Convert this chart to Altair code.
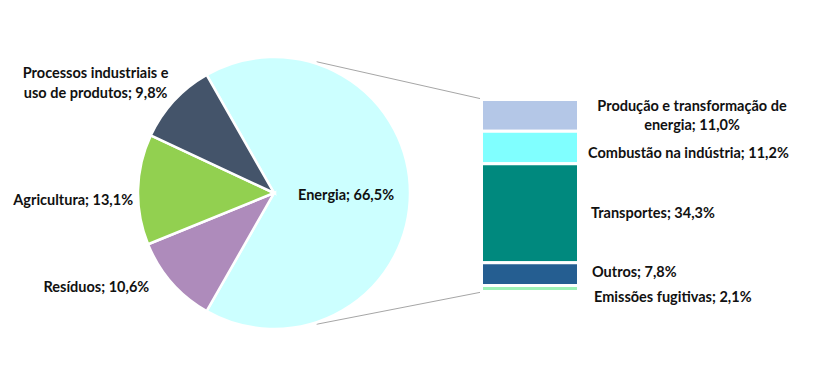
import math
import altair as alt
import pandas as pd

# ---------------- data ----------------
pie_cats = ["Energia", "Resíduos", "Agricultura", "Processos industriais e uso de produtos"]
pie_vals = [66.5, 10.6, 13.1, 9.8]
pie_labels = ["Energia; 66,5%", "Resíduos; 10,6%", "Agricultura; 13,1%",
              "Processos industriais e\nuso de produtos; 9,8%"]

bar_cats = ["Produção e transformação de energia", "Combustão na indústria",
            "Transportes", "Outros", "Emissões fugitivas"]
bar_vals = [11.0, 11.2, 34.3, 7.8, 2.1]
bar_labels = ["Produção e transformação de\nenergia; 11,0%", "Combustão na indústria; 11,2%",
              "Transportes; 34,3%", "Outros; 7,8%", "Emissões fugitivas; 2,1%"]

# ---------------- styles / layout ----------------
pie_colors = ["#CCFFFF", "#AE8BBB", "#92D050", "#44546A"]
bar_colors = ["#B4C7E7", "#80FFFF", "#00897E", "#255E91", "#9DF2B6"]
W, H = 813, 366
CX, CY, R = 266, 185, 136
FONT = "Lato"
FS = 14.5

pie = pd.DataFrame({"cat": pie_cats, "value": pie_vals, "label": pie_labels,
                    "idx": list(range(len(pie_cats)))})
cum = pie["value"].cumsum()
pie["mid"] = cum - pie["value"] / 2
total = float(pie["value"].sum())

# Energia centred on the right side (3 o'clock)
a0 = math.pi / 2 - math.pi * pie_vals[0] / total
theta_scale = alt.Scale(domain=[0, total], range=[a0, a0 + 2 * math.pi])

bar = pd.DataFrame({"cat": bar_cats, "value": bar_vals, "label": bar_labels})
bar["y1"] = bar["value"].cumsum()
bar["y0"] = bar["y1"] - bar["value"]
bar["mid"] = (bar["y0"] + bar["y1"]) / 2
bar_total = float(bar["value"].sum())
y_scale = alt.Scale(domain=[0, bar_total], range=[91.5, 283.5], nice=False, zero=False)

arcs = alt.Chart(pie).mark_arc(outerRadius=R, stroke="white", strokeWidth=2.5).encode(
    theta=alt.Theta("value:Q", stack=True, scale=theta_scale),
    fill=alt.Fill("cat:N", scale=alt.Scale(domain=pie_cats, range=pie_colors), legend=None),
    order=alt.Order("idx:Q"),
    x=alt.value(CX), y=alt.value(CY),
)

# per-label placement: (radius, align, dx, dy)
pie_lab_layout = {
    "Energia": (72, "center", 0, 3),
    "Resíduos": (146, "right", -15, -1),
    "Agricultura": (146, "right", 5, 12),
    "Processos industriais e uso de produtos": (146, "center", -71, -20),
}
pie_texts = []
for cat, (rad, al, dx, dy) in pie_lab_layout.items():
    sub = pie[pie["cat"] == cat]
    pie_texts.append(
        alt.Chart(sub).mark_text(radius=rad, align=al, baseline="middle", dx=dx, dy=dy,
                                 font=FONT, fontSize=FS, fontWeight="bold", color="#111111",
                                 lineBreak="\n", lineHeight=20).encode(
            theta=alt.Theta("mid:Q", scale=theta_scale),
            x=alt.value(CX), y=alt.value(CY),
            text="label:N",
        )
    )

bars = alt.Chart(bar).mark_rect(stroke="white", strokeWidth=3).encode(
    x=alt.value(473.5), x2=alt.value(570.5),
    y=alt.Y("y0:Q", scale=y_scale, axis=None), y2="y1:Q",
    color=alt.Color("cat:N", scale=alt.Scale(domain=bar_cats, range=bar_colors), legend=None),
)

bar_lab_layout = {
    "Produção e transformação de energia": (684, "center", -8),
    "Combustão na indústria": (580, "left", 6),
    "Transportes": (583, "left", 1),
    "Outros": (584, "left", -1),
    "Emissões fugitivas": (586, "left", 10),
}
bar_texts = []
for cat, (xx, al, dy) in bar_lab_layout.items():
    sub = bar[bar["cat"] == cat]
    bar_texts.append(
        alt.Chart(sub).mark_text(align=al, baseline="middle", dy=dy, font=FONT, fontSize=FS,
                                 fontWeight="bold", color="#111111", lineBreak="\n",
                                 lineHeight=19).encode(
            x=alt.value(xx),
            y=alt.Y("mid:Q", scale=y_scale, axis=None),
            text="label:N",
        )
    )

# connector lines from pie to the bar
ang = math.radians(18)
px = CX + (R + 2) * math.sin(ang)
py_top = CY - (R + 2) * math.cos(ang)
py_bot = CY + (R + 2) * math.cos(ang)
one = pd.DataFrame({"k": [0]})
line_top = alt.Chart(one).mark_rule(color="#A6A6A6", strokeWidth=1).encode(
    x=alt.value(px), y=alt.value(py_top), x2=alt.value(474), y2=alt.value(91))
line_bot = alt.Chart(one).mark_rule(color="#A6A6A6", strokeWidth=1).encode(
    x=alt.value(px), y=alt.value(py_bot), x2=alt.value(474), y2=alt.value(284))

chart = alt.layer(line_top, line_bot, arcs, bars, *pie_texts, *bar_texts).resolve_scale(
    color="independent", fill="independent"
).properties(
    width=W, height=H, autosize="none", padding=0
).configure_view(stroke=None)

chart.save("out.html", embed_options={"renderer": "svg", "actions": False})
